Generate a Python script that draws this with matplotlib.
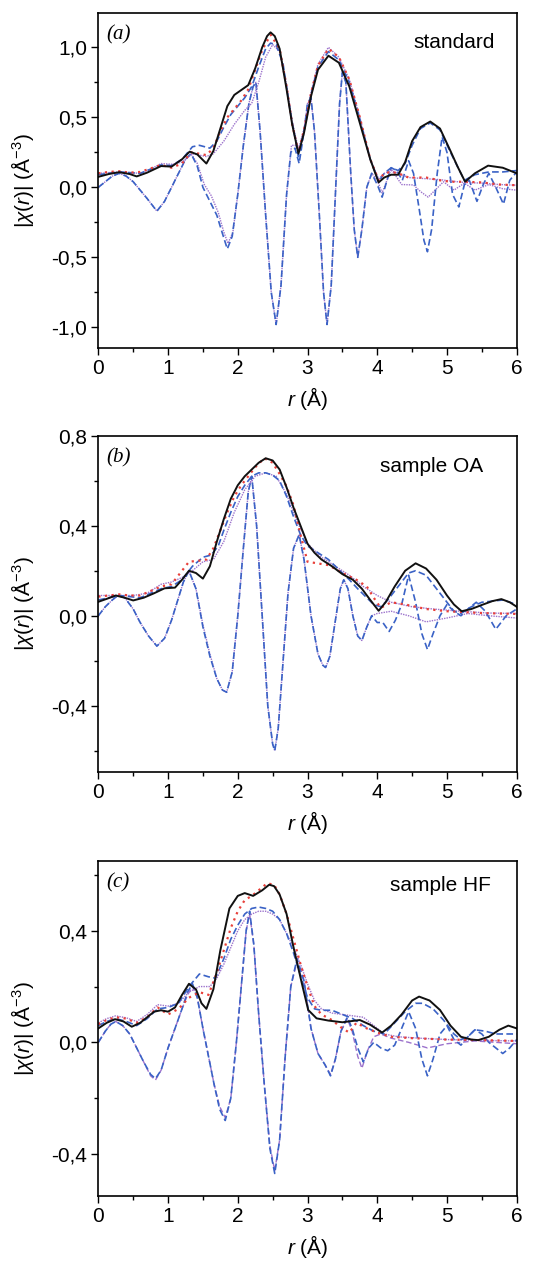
import numpy as np
import matplotlib
matplotlib.use("Agg")
import matplotlib.pyplot as plt
from matplotlib.ticker import MultipleLocator, FuncFormatter

plt.rcParams['font.family'] = ['Liberation Sans', 'DejaVu Sans']
plt.rcParams['mathtext.fontset'] = 'custom'
plt.rcParams['mathtext.rm'] = 'Liberation Sans'
plt.rcParams['mathtext.it'] = 'Liberation Sans:italic'
plt.rcParams['axes.unicode_minus'] = False

# ---------------- panel (a) standard ----------------
black_a_r = [0, 0.15, 0.3, 0.45, 0.55, 0.7, 0.9, 1.05, 1.2, 1.31, 1.42, 1.55, 1.65, 1.75, 1.85, 1.95, 2.05, 2.15,
             2.25, 2.35, 2.42, 2.47, 2.53, 2.6, 2.7, 2.78, 2.87, 2.95, 3.05, 3.15, 3.3, 3.45, 3.6, 3.75, 3.9, 4.02,
             4.1, 4.2, 4.3, 4.4, 4.5, 4.62, 4.76, 4.9, 5.05, 5.15, 5.26, 5.4, 5.59, 5.8, 6.0]
black_a = [0.075, 0.095, 0.108, 0.095, 0.078, 0.105, 0.152, 0.148, 0.2, 0.255, 0.235, 0.17, 0.26, 0.42, 0.58, 0.66,
           0.695, 0.73, 0.85, 1.0, 1.08, 1.107, 1.08, 0.99, 0.7, 0.45, 0.24, 0.39, 0.65, 0.84, 0.94, 0.89, 0.72,
           0.46, 0.2, 0.035, 0.07, 0.09, 0.09, 0.18, 0.33, 0.43, 0.47, 0.42, 0.26, 0.15, 0.04, 0.1, 0.155, 0.14, 0.1]

red_a_r = [0, 0.15, 0.3, 0.45, 0.6, 0.75, 0.9, 1.05, 1.2, 1.33, 1.45, 1.55, 1.65, 1.75, 1.85, 1.95, 2.05, 2.15, 2.25,
           2.35, 2.47, 2.6, 2.7, 2.78, 2.87, 2.95, 3.05, 3.15, 3.3, 3.45, 3.6, 3.75, 3.9, 4.02, 4.1, 4.2, 4.3, 4.45,
           4.7, 4.9, 5.05, 5.25, 5.5, 5.75, 6.0]
red_a = [0.1, 0.11, 0.115, 0.105, 0.11, 0.135, 0.16, 0.14, 0.17, 0.25, 0.24, 0.23, 0.28, 0.4, 0.5, 0.56, 0.62, 0.7,
         0.84, 0.98, 1.09, 0.99, 0.72, 0.45, 0.25, 0.41, 0.67, 0.87, 0.99, 0.93, 0.77, 0.5, 0.2, 0.05, 0.1, 0.11,
         0.1, 0.07, 0.07, 0.05, 0.04, 0.04, 0.035, 0.02, 0.015]

blue_mag_a_r = [0, 0.15, 0.3, 0.45, 0.6, 0.75, 0.9, 1.05, 1.2, 1.35, 1.45, 1.6, 1.7, 1.8, 1.9, 2.0, 2.1, 2.2, 2.3,
                2.4, 2.47, 2.55, 2.65, 2.75, 2.87, 2.95, 3.05, 3.15, 3.3, 3.45, 3.6, 3.75, 3.9, 4.02, 4.1, 4.2, 4.3,
                4.4, 4.5, 4.62, 4.76, 4.9, 5.05, 5.15, 5.25, 5.4, 5.6, 5.8, 6.0]
blue_mag_a = [0.09, 0.1, 0.11, 0.105, 0.1, 0.13, 0.16, 0.155, 0.2, 0.29, 0.3, 0.28, 0.33, 0.43, 0.52, 0.58, 0.64,
              0.72, 0.86, 0.99, 1.03, 1.02, 0.88, 0.55, 0.22, 0.4, 0.66, 0.86, 0.97, 0.91, 0.75, 0.49, 0.2, 0.04,
              0.1, 0.14, 0.12, 0.17, 0.3, 0.42, 0.46, 0.41, 0.25, 0.15, 0.05, 0.09, 0.11, 0.11, 0.12]

blue_im_a_r = [0, 0.1, 0.2, 0.3, 0.4, 0.5, 0.6, 0.7, 0.84, 0.95, 1.05, 1.15, 1.25, 1.33, 1.42, 1.5, 1.6, 1.7, 1.78,
               1.85, 1.92, 2.0, 2.08, 2.16, 2.22, 2.26, 2.32, 2.4, 2.48, 2.55, 2.62, 2.7, 2.76, 2.82, 2.88, 2.95, 3.0,
               3.05, 3.1, 3.17, 3.23, 3.28, 3.34, 3.4, 3.46, 3.5, 3.55, 3.62, 3.67, 3.72, 3.78, 3.85, 3.92, 4.0,
               4.07, 4.14, 4.2, 4.28, 4.36, 4.45, 4.52, 4.6, 4.67, 4.72, 4.78, 4.86, 4.93, 5.0, 5.08, 5.17, 5.25,
               5.32, 5.43, 5.52, 5.6, 5.7, 5.81, 5.9, 6.0]
blue_im_a = [0.0, 0.04, 0.08, 0.1, 0.08, 0.04, -0.02, -0.08, -0.17, -0.1, 0.0, 0.1, 0.2, 0.24, 0.15, 0.0, -0.1,
             -0.2, -0.33, -0.44, -0.35, -0.05, 0.3, 0.6, 0.72, 0.75, 0.4, -0.2, -0.75, -0.98, -0.7, -0.05, 0.25,
             0.28, 0.17, 0.4, 0.6, 0.64, 0.4, -0.2, -0.75, -0.98, -0.7, -0.05, 0.6, 0.82, 0.75, 0.1, -0.3, -0.5,
             -0.3, 0.0, 0.1, 0.02, -0.07, 0.05, 0.14, 0.12, 0.05, 0.19, 0.1, -0.15, -0.38, -0.46, -0.3, 0.1, 0.36,
             0.25, -0.05, -0.14, 0.02, 0.05, -0.1, 0.02, 0.1, 0.0, -0.12, 0.05, 0.11]

pur_mag_a_r = [0, 0.15, 0.3, 0.45, 0.6, 0.75, 0.9, 1.05, 1.2, 1.35, 1.45, 1.55, 1.65, 1.8, 1.95, 2.1, 2.2, 2.3, 2.4,
               2.5, 2.6, 2.7, 2.78, 2.87, 2.95, 3.05, 3.15, 3.3, 3.45, 3.6, 3.75, 3.9, 4.02, 4.1, 4.2, 4.3, 4.45, 4.6,
               4.75, 4.9, 5.05, 5.25, 5.5, 5.75, 6.0]
pur_mag_a = [0.1, 0.105, 0.11, 0.105, 0.1, 0.13, 0.17, 0.165, 0.18, 0.24, 0.23, 0.22, 0.24, 0.33, 0.45, 0.55, 0.6,
             0.75, 0.93, 1.02, 0.97, 0.73, 0.47, 0.27, 0.42, 0.68, 0.88, 1.0, 0.93, 0.77, 0.5, 0.2, 0.06, 0.1, 0.12,
             0.1, 0.07, 0.065, 0.06, 0.055, 0.045, 0.035, 0.03, 0.02, 0.015]

pur_im_a_r = [0, 0.1, 0.2, 0.3, 0.4, 0.5, 0.6, 0.7, 0.84, 0.95, 1.05, 1.15, 1.25, 1.33, 1.42, 1.52, 1.62, 1.72, 1.8,
              1.86, 1.93, 2.0, 2.08, 2.16, 2.22, 2.26, 2.32, 2.4, 2.48, 2.55, 2.62, 2.7, 2.77, 2.82, 2.88, 2.95, 3.0,
              3.05, 3.1, 3.17, 3.23, 3.28, 3.34, 3.4, 3.46, 3.5, 3.55, 3.62, 3.67, 3.72, 3.78, 3.85, 3.92, 4.0,
              4.07, 4.2, 4.35, 4.52, 4.62, 4.73, 4.85, 4.95, 5.1, 5.25, 5.4, 5.6, 5.8, 6.0]
pur_im_a = [0.0, 0.04, 0.08, 0.1, 0.08, 0.04, -0.02, -0.08, -0.17, -0.1, 0.0, 0.1, 0.2, 0.24, 0.17, 0.02, -0.06,
            -0.18, -0.32, -0.4, -0.32, -0.05, 0.3, 0.6, 0.72, 0.75, 0.4, -0.2, -0.75, -0.98, -0.7, -0.05, 0.3, 0.3,
            0.27, 0.4, 0.6, 0.63, 0.4, -0.2, -0.75, -0.98, -0.7, -0.05, 0.6, 0.83, 0.75, 0.1, -0.3, -0.5, -0.3, 0.0,
            0.1, 0.05, -0.04, 0.13, 0.02, 0.017, -0.03, -0.07, -0.01, 0.04, -0.02, 0.03, -0.02, 0.02, -0.01, -0.02]

# ---------------- panel (b) sample OA ----------------
black_b_r = [0, 0.12, 0.25, 0.38, 0.5, 0.65, 0.8, 0.95, 1.1, 1.2, 1.3, 1.4, 1.5, 1.6, 1.7, 1.8, 1.9, 2.0, 2.1, 2.2,
             2.3, 2.4, 2.5, 2.6, 2.7, 2.8, 2.9, 3.0, 3.1, 3.2, 3.35, 3.5, 3.65, 3.78, 3.9, 4.02, 4.12, 4.25, 4.4,
             4.55, 4.7, 4.85, 5.0, 5.1, 5.21, 5.35, 5.5, 5.65, 5.78, 5.9, 6.0]
black_b = [0.062, 0.075, 0.09, 0.08, 0.068, 0.08, 0.1, 0.122, 0.125, 0.16, 0.2, 0.19, 0.165, 0.22, 0.33, 0.43, 0.52,
           0.58, 0.62, 0.65, 0.68, 0.7, 0.69, 0.65, 0.57, 0.48, 0.4, 0.32, 0.28, 0.25, 0.22, 0.185, 0.16, 0.12,
           0.07, 0.022, 0.06, 0.13, 0.2, 0.233, 0.21, 0.16, 0.09, 0.05, 0.02, 0.03, 0.048, 0.065, 0.074, 0.06, 0.04]

red_b_r = [0, 0.15, 0.3, 0.45, 0.6, 0.75, 0.9, 1.05, 1.2, 1.3, 1.45, 1.55, 1.65, 1.75, 1.85, 1.95, 2.05, 2.15, 2.25,
           2.38, 2.5, 2.6, 2.7, 2.8, 2.9, 3.0, 3.1, 3.3, 3.5, 3.7, 3.85, 3.95, 4.05, 4.2, 4.4, 4.7, 5.0, 5.5, 6.0]
red_b = [0.085, 0.09, 0.095, 0.09, 0.09, 0.11, 0.13, 0.14, 0.2, 0.24, 0.245, 0.25, 0.3, 0.38, 0.46, 0.53, 0.58,
         0.62, 0.66, 0.7, 0.68, 0.63, 0.575, 0.49, 0.36, 0.24, 0.235, 0.225, 0.19, 0.16, 0.13, 0.08, 0.035, 0.06,
         0.05, 0.03, 0.02, 0.012, 0.008]

blue_mag_b_r = [0, 0.15, 0.3, 0.45, 0.6, 0.75, 0.9, 1.05, 1.2, 1.35, 1.5, 1.62, 1.72, 1.8, 1.9, 2.0, 2.1, 2.2, 2.3,
                2.4, 2.5, 2.6, 2.7, 2.8, 2.9, 3.0, 3.15, 3.3, 3.5, 3.6, 3.72, 3.85, 3.95, 4.05, 4.15, 4.3, 4.45,
                4.55, 4.7, 4.85, 5.0, 5.1, 5.2, 5.35, 5.5, 5.65, 5.8, 5.9, 6.0]
blue_mag_b = [0.07, 0.08, 0.09, 0.085, 0.08, 0.1, 0.12, 0.13, 0.16, 0.22, 0.26, 0.27, 0.31, 0.38, 0.46, 0.53, 0.58,
              0.62, 0.635, 0.635, 0.625, 0.6, 0.53, 0.44, 0.36, 0.31, 0.28, 0.25, 0.19, 0.16, 0.12, 0.08, 0.05,
              0.04, 0.07, 0.13, 0.19, 0.2, 0.18, 0.12, 0.06, 0.02, 0.01, 0.04, 0.06, 0.065, 0.07, 0.06, 0.05]

blue_im_b_r = [0, 0.1, 0.2, 0.28, 0.38, 0.5, 0.6, 0.72, 0.84, 0.95, 1.05, 1.15, 1.22, 1.3, 1.4, 1.5, 1.6, 1.7, 1.78,
               1.84, 1.92, 2.0, 2.08, 2.15, 2.2, 2.27, 2.35, 2.43, 2.5, 2.53, 2.58, 2.65, 2.72, 2.8, 2.88, 2.95,
               3.05, 3.15, 3.22, 3.26, 3.32, 3.4, 3.47, 3.52, 3.58, 3.65, 3.72, 3.78, 3.85, 3.92, 4.0, 4.08, 4.17,
               4.26, 4.35, 4.45, 4.55, 4.64, 4.72, 4.8, 4.9, 5.0, 5.1, 5.2, 5.3, 5.42, 5.55, 5.7, 5.85, 6.0]
blue_im_b = [0.0, 0.04, 0.07, 0.09, 0.08, 0.03, -0.03, -0.09, -0.135, -0.1, -0.02, 0.08, 0.15, 0.2, 0.12, -0.05,
             -0.18, -0.28, -0.33, -0.34, -0.25, 0.0, 0.3, 0.55, 0.62, 0.4, 0.0, -0.4, -0.57, -0.6, -0.5, -0.2, 0.1,
             0.3, 0.36, 0.25, 0.0, -0.17, -0.22, -0.23, -0.18, -0.02, 0.12, 0.16, 0.12, 0.0, -0.09, -0.11, -0.05,
             0.0, -0.03, -0.03, -0.07, -0.02, 0.05, 0.18, 0.06, -0.08, -0.15, -0.08, 0.0, 0.05, 0.02, 0.0, 0.03,
             0.06, 0.02, -0.06, 0.0, 0.03]

pur_mag_b_r = [0, 0.15, 0.3, 0.5, 0.7, 0.9, 1.05, 1.2, 1.35, 1.5, 1.65, 1.8, 1.95, 2.1, 2.25, 2.4, 2.55, 2.7, 2.85,
               3.0, 3.2, 3.4, 3.6, 3.8, 4.0, 4.2, 4.5, 4.8, 5.2, 5.6, 6.0]
pur_mag_b = [0.09, 0.09, 0.09, 0.09, 0.1, 0.14, 0.15, 0.17, 0.2, 0.24, 0.25, 0.33, 0.46, 0.56, 0.62, 0.635, 0.62,
             0.54, 0.42, 0.32, 0.26, 0.22, 0.18, 0.13, 0.09, 0.06, 0.04, 0.03, 0.02, 0.012, 0.01]

pur_im_b_r = [0, 0.1, 0.2, 0.28, 0.38, 0.5, 0.6, 0.72, 0.84, 0.95, 1.05, 1.15, 1.22, 1.3, 1.4, 1.5, 1.6, 1.7, 1.78,
              1.84, 1.92, 2.0, 2.08, 2.15, 2.2, 2.27, 2.35, 2.43, 2.5, 2.53, 2.58, 2.65, 2.72, 2.8, 2.88, 2.95,
              3.05, 3.15, 3.22, 3.26, 3.32, 3.4, 3.47, 3.52, 3.58, 3.65, 3.72, 3.78, 3.85, 3.92, 4.0, 4.2, 4.45,
              4.7, 5.0, 5.3, 5.6, 6.0]
pur_im_b = [0.0, 0.04, 0.07, 0.09, 0.08, 0.03, -0.03, -0.09, -0.135, -0.1, -0.02, 0.08, 0.15, 0.2, 0.12, -0.04,
            -0.17, -0.28, -0.33, -0.34, -0.25, 0.0, 0.3, 0.55, 0.62, 0.4, 0.0, -0.4, -0.57, -0.6, -0.5, -0.2, 0.1,
            0.3, 0.36, 0.25, 0.0, -0.17, -0.22, -0.23, -0.18, -0.02, 0.12, 0.16, 0.12, 0.0, -0.09, -0.11, -0.05,
            0.0, 0.01, 0.02, 0.0, -0.027, -0.01, 0.01, 0.0, -0.01]

# ---------------- panel (c) sample HF ----------------
black_c_r = [0, 0.12, 0.24, 0.36, 0.48, 0.6, 0.7, 0.8, 0.9, 1.0, 1.1, 1.2, 1.3, 1.4, 1.48, 1.55, 1.65, 1.75, 1.88,
             2.0, 2.1, 2.22, 2.35, 2.45, 2.52, 2.6, 2.7, 2.8, 2.92, 3.01, 3.13, 3.3, 3.5, 3.75, 3.9, 4.07, 4.2, 4.35,
             4.5, 4.6, 4.75, 4.9, 5.05, 5.2, 5.35, 5.45, 5.6, 5.75, 5.88, 6.0]
black_c = [0.05, 0.07, 0.083, 0.075, 0.056, 0.07, 0.09, 0.11, 0.115, 0.11, 0.125, 0.17, 0.21, 0.19, 0.14, 0.12,
           0.19, 0.33, 0.48, 0.525, 0.535, 0.525, 0.545, 0.565, 0.56, 0.53, 0.46, 0.34, 0.21, 0.116, 0.086, 0.078,
           0.072, 0.08, 0.063, 0.035, 0.06, 0.1, 0.15, 0.164, 0.15, 0.116, 0.06, 0.02, 0.01, 0.008, 0.02, 0.045,
           0.06, 0.05]

red_c_r = [0, 0.12, 0.25, 0.4, 0.55, 0.7, 0.85, 1.0, 1.15, 1.3, 1.45, 1.58, 1.7, 1.8, 1.9, 2.0, 2.1, 2.2, 2.3, 2.42,
           2.52, 2.6, 2.7, 2.8, 2.9, 3.0, 3.1, 3.2, 3.35, 3.5, 3.6, 3.7, 3.85, 4.0, 4.2, 4.5, 5.0, 5.5, 6.0]
red_c = [0.065, 0.08, 0.09, 0.085, 0.07, 0.09, 0.125, 0.1, 0.12, 0.16, 0.18, 0.17, 0.25, 0.33, 0.41, 0.47, 0.51,
         0.525, 0.545, 0.57, 0.565, 0.53, 0.46, 0.37, 0.28, 0.2, 0.13, 0.1, 0.08, 0.05, 0.035, 0.07, 0.05, 0.035,
         0.02, 0.015, 0.01, 0.008, 0.005]

blue_mag_c_r = [0, 0.12, 0.25, 0.4, 0.55, 0.7, 0.85, 1.0, 1.15, 1.3, 1.45, 1.58, 1.68, 1.8, 1.9, 2.0, 2.1, 2.2, 2.3,
                2.4, 2.5, 2.6, 2.7, 2.8, 2.9, 3.0, 3.1, 3.2, 3.35, 3.5, 3.65, 3.8, 3.95, 4.1, 4.25, 4.4, 4.55, 4.65,
                4.8, 4.95, 5.1, 5.2, 5.3, 5.4, 5.55, 5.7, 5.85, 6.0]
blue_mag_c = [0.06, 0.075, 0.085, 0.075, 0.06, 0.085, 0.12, 0.125, 0.14, 0.2, 0.245, 0.235, 0.23, 0.3, 0.37, 0.42,
              0.46, 0.48, 0.485, 0.48, 0.47, 0.44, 0.39, 0.32, 0.24, 0.16, 0.12, 0.115, 0.115, 0.1, 0.085, 0.06,
              0.04, 0.03, 0.07, 0.11, 0.14, 0.14, 0.12, 0.08, 0.03, 0.01, 0.02, 0.045, 0.04, 0.03, 0.03, 0.03]

blue_im_c_r = [0, 0.1, 0.18, 0.25, 0.35, 0.45, 0.55, 0.65, 0.75, 0.82, 0.9, 1.0, 1.1, 1.2, 1.28, 1.35, 1.42, 1.5,
               1.58, 1.66, 1.74, 1.82, 1.9, 1.98, 2.05, 2.12, 2.17, 2.23, 2.3, 2.38, 2.46, 2.53, 2.6, 2.68, 2.76,
               2.85, 2.95, 3.05, 3.15, 3.25, 3.33, 3.4, 3.48, 3.57, 3.64, 3.72, 3.8, 3.88, 3.95, 4.05, 4.15, 4.25,
               4.35, 4.45, 4.55, 4.64, 4.72, 4.8, 4.9, 5.0, 5.1, 5.2, 5.3, 5.4, 5.5, 5.6, 5.7, 5.8, 5.9, 6.0]
blue_im_c = [0.0, 0.04, 0.065, 0.075, 0.06, 0.03, -0.02, -0.07, -0.115, -0.13, -0.1, -0.02, 0.05, 0.12, 0.18, 0.21,
             0.16, 0.05, -0.05, -0.15, -0.24, -0.28, -0.2, 0.0, 0.2, 0.4, 0.47, 0.35, 0.1, -0.15, -0.38, -0.47,
             -0.35, -0.05, 0.2, 0.3, 0.22, 0.05, -0.04, -0.08, -0.12, -0.06, 0.04, 0.09, 0.05, -0.02, -0.07, -0.02,
             0.0, -0.02, -0.03, -0.01, 0.05, 0.11, 0.05, -0.06, -0.12, -0.06, 0.03, 0.06, 0.01, -0.01, 0.02, 0.045,
             0.03, 0.0, -0.02, -0.04, -0.02, 0.01]

pur_mag_c_r = [0, 0.12, 0.25, 0.4, 0.55, 0.7, 0.85, 1.0, 1.15, 1.3, 1.45, 1.6, 1.7, 1.8, 1.9, 2.0, 2.1, 2.2, 2.3,
               2.4, 2.5, 2.6, 2.7, 2.8, 2.9, 3.0, 3.1, 3.2, 3.35, 3.5, 3.65, 3.8, 3.95, 4.1, 4.3, 4.6, 5.0, 5.5, 6.0]
pur_mag_c = [0.07, 0.085, 0.095, 0.088, 0.075, 0.1, 0.135, 0.13, 0.14, 0.18, 0.2, 0.2, 0.23, 0.28, 0.34, 0.4, 0.44,
             0.46, 0.47, 0.47, 0.46, 0.44, 0.39, 0.34, 0.28, 0.21, 0.15, 0.12, 0.105, 0.1, 0.095, 0.09, 0.06, 0.03,
             0.02, 0.015, 0.01, 0.007, 0.005]

pur_im_c_r = [0, 0.1, 0.18, 0.25, 0.35, 0.45, 0.55, 0.65, 0.75, 0.82, 0.9, 1.0, 1.1, 1.2, 1.28, 1.35, 1.42, 1.5,
              1.58, 1.66, 1.74, 1.82, 1.9, 1.98, 2.05, 2.12, 2.17, 2.23, 2.3, 2.38, 2.46, 2.53, 2.6, 2.68, 2.76,
              2.85, 2.95, 3.05, 3.15, 3.25, 3.33, 3.4, 3.48, 3.57, 3.64, 3.72, 3.78, 3.86, 3.95, 4.05, 4.2, 4.45,
              4.72, 5.0, 5.4, 6.0]
pur_im_c = [0.0, 0.04, 0.065, 0.075, 0.06, 0.03, -0.02, -0.07, -0.12, -0.135, -0.1, -0.02, 0.05, 0.12, 0.17, 0.2,
            0.16, 0.05, -0.05, -0.15, -0.23, -0.27, -0.2, 0.0, 0.2, 0.4, 0.46, 0.35, 0.1, -0.15, -0.37, -0.46,
            -0.35, -0.05, 0.2, 0.29, 0.22, 0.05, -0.04, -0.08, -0.115, -0.06, 0.04, 0.085, 0.04, -0.05, -0.093,
            -0.03, 0.02, 0.03, 0.015, 0.0, -0.02, -0.005, 0.005, -0.005]

panels = [
    dict(tag='a', name='standard', ylim=(-1.15, 1.247), major=0.5, minor=0.25, name_x=0.948, name_y=0.91,
         black=(black_a_r, black_a), red=(red_a_r, red_a), blue_mag=(blue_mag_a_r, blue_mag_a),
         blue_im=(blue_im_a_r, blue_im_a), pur_mag=(pur_mag_a_r, pur_mag_a), pur_im=(pur_im_a_r, pur_im_a),
         pur_im_ls=(0, (1, 0.8))),
    dict(tag='b', name='sample OA', ylim=(-0.693, 0.8), major=0.4, minor=0.2, name_x=0.92, name_y=0.908,
         black=(black_b_r, black_b), red=(red_b_r, red_b), blue_mag=(blue_mag_b_r, blue_mag_b),
         blue_im=(blue_im_b_r, blue_im_b), pur_mag=(pur_mag_b_r, pur_mag_b), pur_im=(pur_im_b_r, pur_im_b),
         pur_im_ls=(0, (1, 0.8))),
    dict(tag='c', name='sample HF', ylim=(-0.551, 0.651), major=0.4, minor=0.2, name_x=0.938, name_y=0.927,
         black=(black_c_r, black_c), red=(red_c_r, red_c), blue_mag=(blue_mag_c_r, blue_mag_c),
         blue_im=(blue_im_c_r, blue_im_c), pur_mag=(pur_mag_c_r, pur_mag_c), pur_im=(pur_im_c_r, pur_im_c),
         pur_im_ls=(0, (4, 2))),
]

# axes boxes in figure fractions (left, bottom, width, height)
boxes = [(0.1762, 0.7242, 0.7498, 0.2657),
         (0.1762, 0.3890, 0.7498, 0.2660),
         (0.1762, 0.0530, 0.7498, 0.2655)]

c_black = '#111111'
c_red = '#e8403a'
c_blue = '#3a62c6'
c_pur = '#9c72cc'

comma = FuncFormatter(lambda v, p: ('%.1f' % v).replace('.', ','))

fig = plt.figure(figsize=(5.58, 12.63), dpi=100)

for p, box in zip(panels, boxes):
    ax = fig.add_axes(box)
    ax.plot(*p['pur_im'], color=c_pur, lw=1.0, ls=p['pur_im_ls'])
    ax.plot(*p['blue_im'], color=c_blue, lw=1.2, ls=(0, (4, 2)))
    ax.plot(*p['pur_mag'], color=c_pur, lw=1.0, ls=(0, (1, 0.8)))
    ax.plot(*p['blue_mag'], color=c_blue, lw=1.2, ls=(0, (4, 2)))
    ax.plot(*p['red'], color=c_red, lw=1.6, ls=(0, (1, 2)))
    ax.plot(*p['black'], color=c_black, lw=1.4, ls='-')

    ax.set_xlim(0, 6)
    ax.set_ylim(*p['ylim'])
    ax.xaxis.set_major_locator(MultipleLocator(1))
    ax.xaxis.set_minor_locator(MultipleLocator(0.5))
    ax.yaxis.set_major_locator(MultipleLocator(p['major']))
    ax.yaxis.set_minor_locator(MultipleLocator(p['minor']))
    ax.yaxis.set_major_formatter(comma)
    ax.tick_params(which='both', direction='out', top=False, right=False, labelsize=15, width=1.0, pad=3)
    ax.tick_params(which='major', length=5)
    ax.tick_params(which='minor', length=3)
    for s in ax.spines.values():
        s.set_linewidth(1.2)

    ax.set_xlabel(r'$r$ (Å)', fontsize=15, labelpad=5)
    ax.set_ylabel(r'$|\chi(r)|$ (Å$^{-3}$)', fontsize=15)
    ax.yaxis.set_label_coords(-0.148, 0.5)

    ax.text(0.02, 0.935, '(' + p['tag'] + ')', transform=ax.transAxes, fontsize=15,
            family='Liberation Serif', style='italic', va='center', ha='left')
    ax.text(p['name_x'], p['name_y'], p['name'], transform=ax.transAxes, fontsize=15,
            va='center', ha='right')

fig.savefig('out.png', dpi=100)
